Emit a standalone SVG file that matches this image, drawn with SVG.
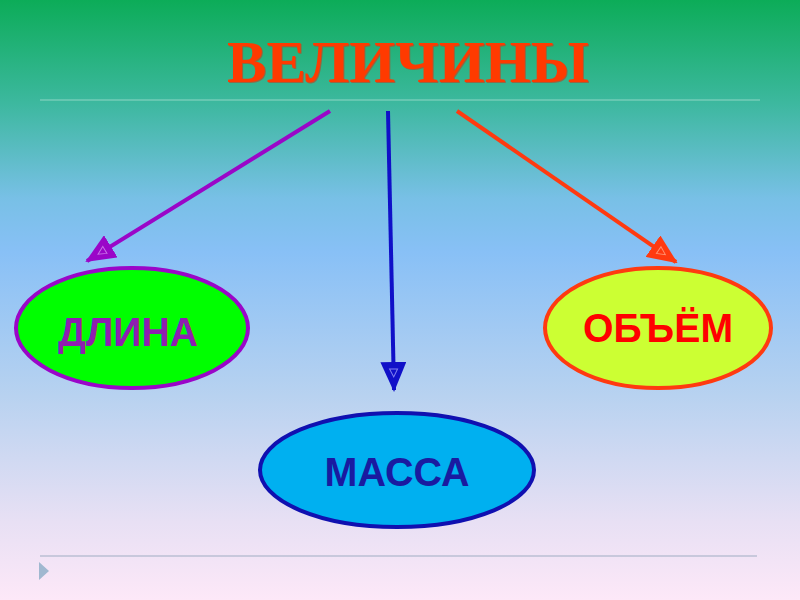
<svg xmlns="http://www.w3.org/2000/svg" width="800" height="600" viewBox="0 0 800 600">
<defs>
<linearGradient id="bg" x1="0" y1="0" x2="0" y2="1">
<stop offset="0" stop-color="#0cac58"/>
<stop offset="0.17" stop-color="#3cb89e"/>
<stop offset="0.33" stop-color="#78c0e6"/>
<stop offset="0.42" stop-color="#88c0f6"/>
<stop offset="0.66" stop-color="#b8d2f0"/>
<stop offset="0.87" stop-color="#e8e0f4"/>
<stop offset="1" stop-color="#fde8f8"/>
</linearGradient>
<marker id="ahP" viewBox="0 0 30 26" refX="28" refY="13" markerWidth="30" markerHeight="26" markerUnits="userSpaceOnUse" orient="auto">
<path d="M0,0 L30,13 L0,26 Z" fill="#9a06c8"/>
<path d="M7,9 L15,13 L7,17 Z" fill="none" stroke="#c870e8" stroke-width="1"/>
</marker>
<marker id="ahB" viewBox="0 0 30 26" refX="28" refY="13" markerWidth="30" markerHeight="26" markerUnits="userSpaceOnUse" orient="auto">
<path d="M0,0 L30,13 L0,26 Z" fill="#1010c8"/>
<path d="M7,9 L15,13 L7,17 Z" fill="none" stroke="#8080f0" stroke-width="1"/>
</marker>
<marker id="ahR" viewBox="0 0 30 26" refX="28" refY="13" markerWidth="30" markerHeight="26" markerUnits="userSpaceOnUse" orient="auto">
<path d="M0,0 L30,13 L0,26 Z" fill="#ff3a10"/>
<path d="M7,9 L15,13 L7,17 Z" fill="none" stroke="#ff9070" stroke-width="1"/>
</marker>
</defs>
<style>
.lbl{font-family:"Liberation Sans",Arial,sans-serif;font-weight:bold;font-size:40px;text-anchor:middle}
.conn{stroke-width:4;fill:none}
.node{stroke-width:4}
</style>
<rect x="0" y="0" width="800" height="600" fill="url(#bg)"/>
<line x1="40" y1="100" x2="760" y2="100" stroke="#74ccb8" stroke-width="1.5"/>
<line x1="40" y1="556" x2="757" y2="556" stroke="#c8c8dc" stroke-width="2"/>
<path d="M39,562 L49,571 L39,580 Z" fill="#a0b8d0"/>
<g id="title">
<text x="409" y="83" font-family="'Liberation Serif','Times New Roman',serif" font-weight="bold" font-size="60" text-anchor="middle" fill="#b84828" fill-opacity="0.7" textLength="362" lengthAdjust="spacingAndGlyphs">ВЕЛИЧИНЫ</text>
<text x="408" y="82" font-family="'Liberation Serif','Times New Roman',serif" font-weight="bold" font-size="60" text-anchor="middle" fill="#ff3a00" textLength="362" lengthAdjust="spacingAndGlyphs">ВЕЛИЧИНЫ</text>
</g>
<g id="connectors">
<line class="conn" x1="330" y1="111" x2="87" y2="261" stroke="#9a06c8" marker-end="url(#ahP)"/>
<line class="conn" x1="388" y1="111" x2="394" y2="390" stroke="#1010c8" marker-end="url(#ahB)"/>
<line class="conn" x1="457" y1="111" x2="676" y2="262" stroke="#ff3a10" marker-end="url(#ahR)"/>
</g>
<g id="dlina">
<ellipse class="node" cx="132" cy="328" rx="116" ry="60" fill="#00ff00" stroke="#9a06c8"/>
<text class="lbl" x="128" y="346" fill="#8e1eb0" textLength="140" lengthAdjust="spacingAndGlyphs">ДЛИНА</text>
</g>
<g id="obem">
<ellipse class="node" cx="658" cy="328" rx="113" ry="60" fill="#ccff33" stroke="#ff3a10"/>
<text class="lbl" x="658" y="342" fill="#ff0000" textLength="150" lengthAdjust="spacingAndGlyphs">ОБЪЁМ</text>
</g>
<g id="massa">
<ellipse class="node" cx="397" cy="470" rx="137" ry="57" fill="#00b0f0" stroke="#1010b0"/>
<text class="lbl" x="397" y="486" fill="#1a1aa0" textLength="145" lengthAdjust="spacingAndGlyphs">МАССА</text>
</g>
</svg>
